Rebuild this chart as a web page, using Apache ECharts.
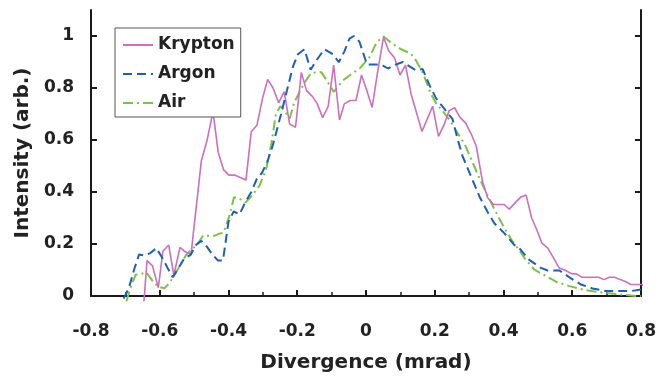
<!DOCTYPE html>
<html>
<head>
<meta charset="utf-8">
<script src="https://cdn.jsdelivr.net/npm/echarts@6/dist/echarts.min.js"></script>
<style>
html,body{margin:0;padding:0;background:#fff;}
#chart{width:659px;height:378px;}
</style>
</head>
<body>
<div id="chart"></div>
<script>
const seriesNames = ['Krypton', 'Argon', 'Air'];

const kryptonX = [-0.646,-0.637,-0.621,-0.604,-0.591,-0.574,-0.559,-0.541,-0.526,-0.509,-0.479,-0.463,-0.445,-0.430,-0.414,-0.399,-0.382,-0.366,-0.349,-0.334,-0.317,-0.301,-0.286,-0.270,-0.254,-0.238,-0.222,-0.205,-0.188,-0.173,-0.156,-0.142,-0.126,-0.110,-0.094,-0.077,-0.063,-0.046,-0.029,-0.013,0.001,0.018,0.034,0.051,0.066,0.083,0.099,0.115,0.131,0.163,0.194,0.211,0.227,0.242,0.258,0.273,0.290,0.306,0.321,0.339,0.354,0.371,0.386,0.402,0.417,0.435,0.451,0.466,0.482,0.497,0.512,0.529,0.546,0.562,0.580,0.597,0.612,0.629,0.645,0.661,0.677,0.692,0.708,0.723,0.740,0.756,0.771,0.787,0.803,0.820];
const kryptonY = [-0.02,0.136,0.116,0.032,0.172,0.196,0.080,0.187,0.170,0.160,0.520,0.595,0.709,0.553,0.485,0.465,0.465,0.456,0.446,0.631,0.658,0.760,0.833,0.799,0.743,0.786,0.661,0.649,0.860,0.790,0.768,0.740,0.686,0.729,0.888,0.677,0.739,0.752,0.752,0.850,0.796,0.725,0.863,0.995,0.943,0.916,0.850,0.888,0.778,0.633,0.730,0.614,0.658,0.713,0.724,0.688,0.665,0.624,0.576,0.440,0.378,0.352,0.352,0.352,0.334,0.360,0.381,0.388,0.300,0.255,0.203,0.184,0.146,0.108,0.099,0.086,0.085,0.072,0.072,0.072,0.072,0.063,0.072,0.072,0.063,0.055,0.044,0.044,0.044,0.030];

const argonX = [-0.705,-0.690,-0.675,-0.660,-0.644,-0.627,-0.610,-0.594,-0.578,-0.562,-0.545,-0.528,-0.511,-0.495,-0.479,-0.463,-0.447,-0.431,-0.416,-0.400,-0.385,-0.368,-0.351,-0.334,-0.318,-0.302,-0.286,-0.271,-0.261,-0.247,-0.230,-0.213,-0.198,-0.179,-0.161,-0.145,-0.121,-0.096,-0.079,-0.063,-0.048,-0.035,-0.019,0.003,0.030,0.049,0.064,0.083,0.107,0.129,0.146,0.165,0.185,0.204,0.223,0.252,0.267,0.281,0.306,0.330,0.354,0.374,0.403,0.432,0.446,0.475,0.509,0.529,0.563,0.592,0.626,0.659,0.698,0.737,0.771,0.800];
const argonY = [-0.01,0.030,0.100,0.160,0.156,0.165,0.184,0.150,0.110,0.072,0.108,0.146,0.157,0.196,0.212,0.190,0.160,0.137,0.137,0.285,0.325,0.314,0.361,0.399,0.449,0.475,0.520,0.580,0.630,0.700,0.790,0.880,0.930,0.949,0.870,0.905,0.949,0.930,0.899,0.940,0.990,1.000,0.978,0.890,0.890,0.886,0.875,0.888,0.900,0.881,0.868,0.873,0.810,0.760,0.728,0.680,0.601,0.538,0.459,0.383,0.323,0.279,0.241,0.196,0.184,0.139,0.108,0.098,0.098,0.072,0.044,0.029,0.019,0.019,0.019,0.025];

const airX = [-0.697,-0.683,-0.670,-0.655,-0.639,-0.622,-0.605,-0.586,-0.572,-0.557,-0.540,-0.523,-0.507,-0.492,-0.474,-0.455,-0.440,-0.426,-0.414,-0.397,-0.384,-0.368,-0.350,-0.329,-0.310,-0.290,-0.276,-0.262,-0.249,-0.236,-0.222,-0.208,-0.193,-0.174,-0.159,-0.130,-0.111,-0.094,-0.067,-0.045,-0.016,0.010,0.032,0.051,0.075,0.102,0.130,0.146,0.167,0.188,0.206,0.223,0.243,0.265,0.288,0.308,0.330,0.354,0.378,0.403,0.427,0.446,0.461,0.490,0.519,0.553,0.592,0.640,0.688,0.737,0.785,0.800];
const airY = [-0.02,0.040,0.082,0.085,0.091,0.060,0.035,0.030,0.050,0.082,0.120,0.158,0.180,0.196,0.232,0.232,0.232,0.240,0.244,0.310,0.380,0.374,0.360,0.390,0.424,0.490,0.580,0.700,0.730,0.710,0.683,0.747,0.785,0.830,0.858,0.861,0.823,0.785,0.829,0.851,0.878,0.918,0.978,0.998,0.972,0.949,0.933,0.905,0.854,0.780,0.737,0.712,0.677,0.630,0.582,0.520,0.453,0.386,0.323,0.260,0.209,0.177,0.146,0.101,0.080,0.055,0.038,0.022,0.013,0.006,0.000,0.000];

const yTickValues = [0, 0.2, 0.4, 0.6, 0.8, 1];
const xMin = -0.8, xMax = 0.8, xInterval = 0.2;
const yMin = 0, yMax = 1.1;

function zip(xs, ys) { return xs.map((x, i) => [x, ys[i]]); }

const FONT = 'DejaVu Sans';
const chart = echarts.init(document.getElementById('chart'), null, {renderer: 'canvas'});
const axisLineStyle = {color: '#1a1a1a', width: 2};

chart.setOption({
  animation: false,
  backgroundColor: '#ffffff',
  grid: {left: 91, right: 17, top: 10, bottom: 76, containLabel: false},
  legend: {
    orient: 'vertical',
    left: 115, top: 28,
    padding: [7, 6, 4, 7],
    itemWidth: 30, itemHeight: 14, itemGap: 9,
    borderColor: '#555', borderWidth: 1,
    backgroundColor: '#fff',
    itemStyle: {color: 'rgba(0,0,0,0)', borderColor: 'rgba(0,0,0,0)', borderWidth: 0, opacity: 0},
    textStyle: {fontFamily: FONT, fontWeight: 'bold', fontSize: 17, color: '#222', lineHeight: 20, padding: [0, 0, 0, 0]},
    data: seriesNames
  },
  xAxis: {
    type: 'value', min: xMin, max: xMax, interval: xInterval,
    name: 'Divergence (mrad)', nameLocation: 'middle', nameGap: 57,
    nameTextStyle: {fontFamily: FONT, fontWeight: 'bold', fontSize: 20, color: '#222'},
    axisLine: {show: true, onZero: false, lineStyle: axisLineStyle},
    axisTick: {show: true, inside: true, length: 6, lineStyle: {color: '#1a1a1a', width: 2}},
    minorTick: {show: true, splitNumber: 2, length: 4, lineStyle: {color: '#1a1a1a', width: 1.5}},
    axisLabel: {fontFamily: FONT, fontWeight: 'bold', fontSize: 17, color: '#222', margin: 27},
    splitLine: {show: false}
  },
  yAxis: [{
    type: 'value', min: yMin, max: yMax, position: 'left',
    name: 'Intensity (arb.)', nameLocation: 'middle', nameGap: 58, nameRotate: 90,
    nameTextStyle: {fontFamily: FONT, fontWeight: 'bold', fontSize: 20, color: '#222'},
    axisLine: {show: true, onZero: false, lineStyle: axisLineStyle},
    axisTick: {show: true, inside: true, length: 6, customValues: yTickValues, lineStyle: {color: '#1a1a1a', width: 2}},
    axisLabel: {fontFamily: FONT, fontWeight: 'bold', fontSize: 17, color: '#222', margin: 17, customValues: yTickValues},
    splitLine: {show: false}
  }, {
    type: 'value', min: yMin, max: yMax, position: 'right',
    axisLine: {show: true, onZero: false, lineStyle: axisLineStyle},
    axisTick: {show: true, inside: true, length: 6, customValues: yTickValues, lineStyle: {color: '#1a1a1a', width: 2}},
    axisLabel: {show: false},
    splitLine: {show: false}
  }],
  series: [
    {name: seriesNames[0], type: 'line', data: zip(kryptonX, kryptonY), symbol: 'none', clip: false,
     color: '#cc6fbe', lineStyle: {color: '#cc6fbe', width: 1.6, type: 'solid'}, z: 3},
    {name: seriesNames[1], type: 'line', data: zip(argonX, argonY), symbol: 'none', clip: false,
     color: '#1f5fb3', lineStyle: {color: '#1f5fb3', width: 2, type: [9, 5]}, z: 4},
    {name: seriesNames[2], type: 'line', data: zip(airX, airY), symbol: 'none', clip: false,
     color: '#7cc245', lineStyle: {color: '#7cc245', width: 2, type: [10, 4, 2, 4]}, z: 2}
  ]
});
</script>
</body>
</html>
